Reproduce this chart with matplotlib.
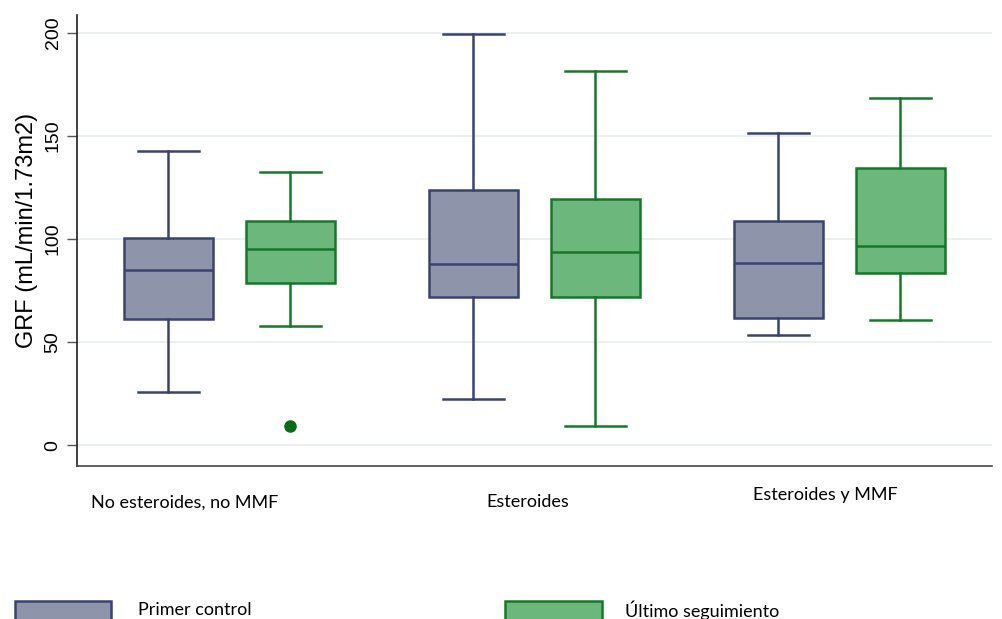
import matplotlib
matplotlib.use("Agg")
import matplotlib.pyplot as plt
from matplotlib.patches import Rectangle

# ---- data ----
groups = ["No esteroides, no MMF", "Esteroides", "Esteroides y MMF"]
series = ["Primer control", "Último seguimiento"]
# whisker low, Q1, median, Q3, whisker high
primer_low = [26, 22.5, 53.5]
primer_q1 = [61, 72, 61.5]
primer_med = [85, 88, 88.5]
primer_q3 = [100.5, 123.5, 108.5]
primer_high = [142.5, 199.5, 151.5]
primer_fliers = [[], [], []]

ultimo_low = [58, 9.5, 60.5]
ultimo_q1 = [78.5, 72, 83.5]
ultimo_med = [95, 93.5, 96.5]
ultimo_q3 = [108.5, 119.5, 134.5]
ultimo_high = [132.5, 181.5, 168.5]
ultimo_fliers = [[9.5], [], []]

yticks = [0, 50, 100, 150, 200]
ylabel = "GRF (mL/min/1.73m2)"

# ---- styles ----
fill_p, edge_p = "#8e95ab", "#3a4370"
fill_u, edge_u = "#6cb87c", "#17782a"
flier_col = "#0a6a18"

fig = plt.figure(figsize=(10.03, 6.19), dpi=100)
ax = fig.add_axes([77/1003, 1-466/619, (992-77)/1003, (466-15)/619])

def stats(low, q1, med, q3, high, fl):
    return [dict(whislo=a, q1=b, med=c, q3=d, whishi=e, fliers=f)
            for a, b, c, d, e, f in zip(low, q1, med, q3, high, fl)]

off, bw, cw = 0.2, 0.295, 0.2
gx = list(range(len(groups)))

for st, pos, fc, ec in [
    (stats(primer_low, primer_q1, primer_med, primer_q3, primer_high, primer_fliers),
     [g - off for g in gx], fill_p, edge_p),
    (stats(ultimo_low, ultimo_q1, ultimo_med, ultimo_q3, ultimo_high, ultimo_fliers),
     [g + off for g in gx], fill_u, edge_u),
]:
    ax.bxp(st, positions=pos, widths=bw, capwidths=cw, patch_artist=True,
           boxprops=dict(facecolor=fc, edgecolor=ec, linewidth=1.8),
           medianprops=dict(color=ec, linewidth=1.8),
           whiskerprops=dict(color=ec, linewidth=1.8),
           capprops=dict(color=ec, linewidth=1.8),
           flierprops=dict(marker="o", markerfacecolor=flier_col,
                           markeredgecolor=flier_col, markersize=8),
           zorder=3)

ax.set_xlim(-0.5, 2.5)
ax.set_ylim(-10, 208.5)
ax.set_yticks(yticks)
ax.set_yticklabels([str(t) for t in yticks], rotation=90, va="center",
                   fontsize=14, family="Liberation Sans")
ax.tick_params(axis="y", length=7, width=1, color="#555555", pad=4)
ax.set_xticks([])
ax.grid(axis="y", color="#e6eef0", linewidth=1.2, zorder=0)
ax.set_axisbelow(True)
for s in ["top", "right"]:
    ax.spines[s].set_visible(False)
ax.spines["left"].set_color("#222222")
ax.spines["bottom"].set_color("#444444")
ax.spines["left"].set_linewidth(1.2)
ax.spines["bottom"].set_linewidth(1.2)

ax.set_ylabel(ylabel, fontsize=17, family="Liberation Sans")
ax.yaxis.set_label_coords(-0.043, 0.523)

# category labels (placed below axis as in the original)
lab_x = [185, 528, 825]
lab_y = [503, 502, 495]
for name, xp, yp in zip(groups, lab_x, lab_y):
    fig.text(xp/1003, 1 - yp/619, name, ha="center", va="center",
             fontsize=13, family="Lato")

# legend drawn at bottom (cut off like the original)
leg = [(15, 111, 138, fill_p, edge_p), (505, 602, 625, fill_u, edge_u)]
for (x0, x1, tx, fc, ec), name in zip(leg, series):
    fig.add_artist(Rectangle((x0/1003, -0.02), (x1-x0)/1003, (1-601/619) + 0.02,
                             transform=fig.transFigure, facecolor=fc,
                             edgecolor=ec, linewidth=1.8))
    fig.text(tx/1003, 1 - 610/619, name, ha="left", va="center",
             fontsize=13, family="Lato")

fig.savefig("out.png", dpi=100)
